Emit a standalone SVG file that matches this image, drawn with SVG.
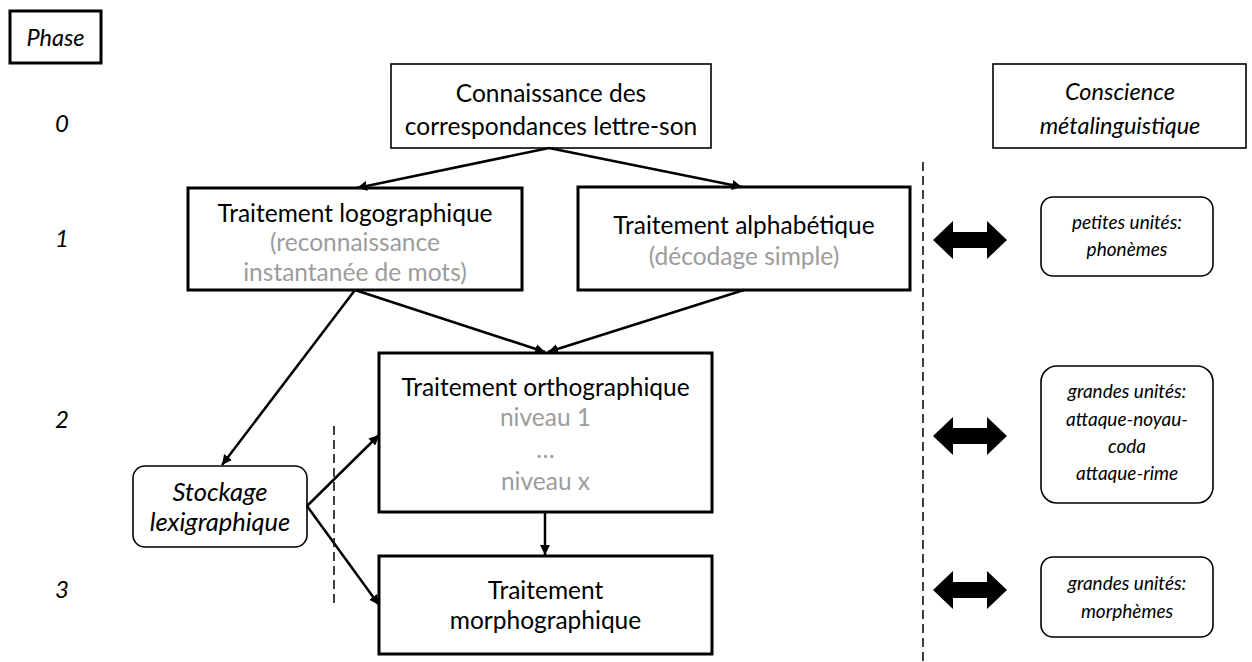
<svg xmlns="http://www.w3.org/2000/svg" width="1252" height="662" viewBox="0 0 1252 662">
<style>
  text { font-family: Lato, "Liberation Sans", sans-serif; fill: #000; }
  .m { font-size: 24.5px; text-anchor: middle; }
  .h { font-size: 23.5px; text-anchor: middle; font-style: italic; }
  .n { font-size: 24px; text-anchor: middle; font-style: italic; }
  .k { font-size: 25.5px; text-anchor: middle; font-style: italic; }
  .g { fill: #9c9c9c; }
  .s { font-size: 19px; text-anchor: middle; font-style: italic; }
  .thick { fill: #fff; stroke: #000; stroke-width: 3; }
  .thin { fill: #fff; stroke: #000; stroke-width: 1.6; }
  .conn line { stroke: #000; stroke-width: 2.5; }
  .conn line.dash { stroke-width: 1.5; stroke-dasharray: 9 5; }
</style>
<defs>
  <marker id="ah" viewBox="0 0 10 10" refX="10" refY="5" markerWidth="4" markerHeight="4" orient="auto" markerUnits="strokeWidth">
    <path d="M0,0 L10,5 L0,10 z" fill="#000"/>
  </marker>
</defs>
<rect width="1252" height="662" fill="#fff"/>

<g id="phase">
  <rect class="thick" x="10" y="11" width="91" height="52"/>
  <text class="h" x="55.5" y="46">Phase</text>
</g>
<g id="phase-numbers">
  <text class="n" x="62" y="132">0</text>
  <text class="n" x="62" y="247">1</text>
  <text class="n" x="62" y="428">2</text>
  <text class="n" x="62" y="598">3</text>
</g>

<g id="connaissance">
  <rect class="thin" x="391" y="64" width="320" height="84"/>
  <text class="m" x="551" y="102">Connaissance des</text>
  <text class="m" x="551" y="135">correspondances lettre-son</text>
</g>

<g id="conscience">
  <rect class="thin" x="993" y="64" width="253" height="84"/>
  <text class="h" x="1120" y="100">Conscience</text>
  <text class="h" x="1120" y="134">métalinguistique</text>
</g>

<g id="logographique">
  <rect class="thick" x="188" y="188" width="334" height="102"/>
  <text class="m" x="355" y="222">Traitement logographique</text>
  <text class="m g" x="355" y="251">(reconnaissance</text>
  <text class="m g" x="355" y="281">instantanée de mots)</text>
</g>

<g id="alphabetique">
  <rect class="thick" x="578" y="187" width="332" height="103"/>
  <text class="m" x="744" y="234">Traitement alphabétique</text>
  <text class="m g" x="744" y="265">(décodage simple)</text>
</g>

<g id="orthographique">
  <rect class="thick" x="379" y="353" width="333" height="159"/>
  <text class="m" x="545.5" y="396">Traitement orthographique</text>
  <text class="m g" x="545.5" y="426">niveau 1</text>
  <text class="m g" x="545.5" y="458">…</text>
  <text class="m g" x="545.5" y="490">niveau x</text>
</g>

<g id="morphographique">
  <rect class="thick" x="379" y="556" width="333" height="98"/>
  <text class="m" x="545.5" y="599">Traitement</text>
  <text class="m" x="545.5" y="629">morphographique</text>
</g>

<g id="stockage">
  <rect class="thin" x="133" y="466" width="174" height="81" rx="12" ry="12"/>
  <text class="k" x="220" y="501">Stockage</text>
  <text class="k" x="220" y="531">lexigraphique</text>
</g>

<g id="petites-unites">
  <rect class="thin" x="1041" y="197" width="172" height="79" rx="12" ry="12"/>
  <text class="s" x="1127" y="229">petites unités:</text>
  <text class="s" x="1127" y="256">phonèmes</text>
</g>

<g id="grandes-unites-1">
  <rect class="thin" x="1041" y="366" width="172" height="137" rx="16" ry="16"/>
  <text class="s" x="1127" y="398">grandes unités:</text>
  <text class="s" x="1127" y="426">attaque-noyau-</text>
  <text class="s" x="1127" y="453">coda</text>
  <text class="s" x="1127" y="480">attaque-rime</text>
</g>

<g id="grandes-unites-2">
  <rect class="thin" x="1041" y="557" width="172" height="80" rx="12" ry="12"/>
  <text class="s" x="1127" y="590">grandes unités:</text>
  <text class="s" x="1127" y="618">morphèmes</text>
</g>

<g id="connectors" class="conn">
  <line x1="549" y1="148" x2="357" y2="188" marker-end="url(#ah)"/>
  <line x1="549" y1="148" x2="742" y2="187" marker-end="url(#ah)"/>
  <line x1="355" y1="290" x2="222" y2="465" marker-end="url(#ah)"/>
  <line x1="355" y1="290" x2="545" y2="352" marker-end="url(#ah)"/>
  <line x1="744" y1="290" x2="548" y2="352" marker-end="url(#ah)"/>
  <line x1="545" y1="512" x2="545" y2="555" marker-end="url(#ah)"/>
  <line x1="307" y1="506" x2="379" y2="435" marker-end="url(#ah)"/>
  <line x1="307" y1="506" x2="379" y2="605" marker-end="url(#ah)"/>
  <line class="dash" x1="923" y1="162" x2="923" y2="662"/>
  <line class="dash" x1="334" y1="426" x2="334" y2="607"/>
  <polygon points="933,240 953,221 953,232 987,232 987,221 1007,240 987,259 987,248 953,248 953,259" fill="#000"/>
  <polygon points="933,436 953,417 953,428 987,428 987,417 1007,436 987,455 987,444 953,444 953,455" fill="#000"/>
  <polygon points="933,590 953,571 953,582 987,582 987,571 1007,590 987,609 987,598 953,598 953,609" fill="#000"/>
</g>
</svg>
